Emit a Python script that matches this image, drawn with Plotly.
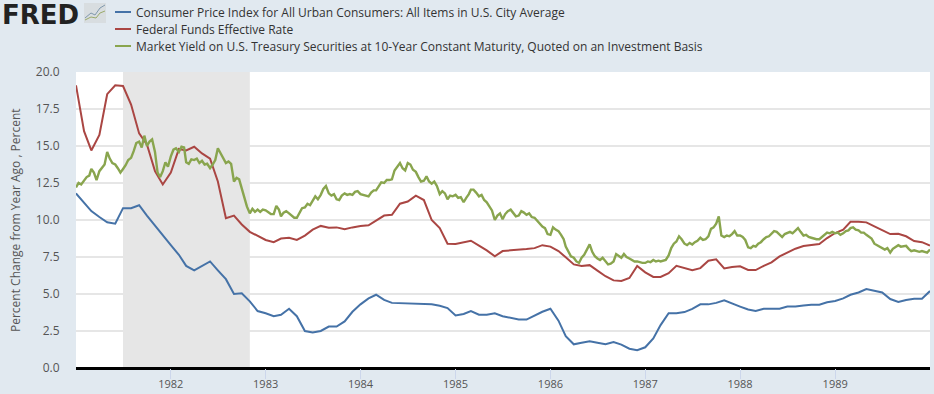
import pandas as pd
import plotly.graph_objects as go

NAMES = ["Consumer Price Index for All Urban Consumers: All Items in U.S. City Average",
         "Federal Funds Effective Rate",
         "Market Yield on U.S. Treasury Securities at 10-Year Constant Maturity, Quoted on an Investment Basis"]
COLORS = ["#4572a7", "#aa4643", "#89a54e"]
TICK_YEARS = [1982, 1983, 1984, 1985, 1986, 1987, 1988, 1989]
Y_TICKS = [0, 2.5, 5, 7.5, 10, 12.5, 15, 17.5, 20]
RECESSION = ["1981-07-01", "1982-11-01"]

cpi = [11.8, 11.2, 10.6, 10.2, 9.85, 9.75, 10.8, 10.8, 11.0, 10.3, 9.6, 8.95,
       8.3, 7.65, 6.9, 6.6, 6.9, 7.2, 6.6, 6.0, 5.0, 5.05, 4.5, 3.85,
       3.7, 3.5, 3.6, 4.0, 3.5, 2.5, 2.4, 2.5, 2.8, 2.8, 3.15, 3.8,
       4.3, 4.7, 4.95, 4.6, 4.4, 4.38, 4.35, 4.33, 4.33, 4.3, 4.2, 4.05,
       3.55, 3.65, 3.85, 3.6, 3.6, 3.7, 3.5, 3.4, 3.27, 3.27, 3.55, 3.8,
       4.0, 3.2, 2.15, 1.6, 1.7, 1.8, 1.7, 1.6, 1.75, 1.58, 1.3, 1.2,
       1.4, 2.0, 2.9, 3.7, 3.7, 3.78, 4.0, 4.3, 4.3, 4.4, 4.57, 4.35,
       4.15, 3.95, 3.85, 4.0, 4.0, 4.0, 4.15, 4.15, 4.23, 4.28, 4.28, 4.44,
       4.53, 4.7, 4.95, 5.1, 5.33, 5.22, 5.1, 4.66, 4.46, 4.6, 4.68, 4.68, 5.2]

fedfunds = [19.1, 16.0, 14.7, 15.75, 18.5, 19.1, 19.05, 17.8, 15.85, 15.1, 13.3, 12.4,
            13.2, 14.8, 14.7, 14.95, 14.5, 14.15, 12.6, 10.12, 10.3, 9.7, 9.2, 8.95,
            8.65, 8.5, 8.75, 8.8, 8.65, 8.95, 9.35, 9.6, 9.48, 9.5, 9.37, 9.5,
            9.6, 9.64, 9.95, 10.3, 10.35, 11.1, 11.25, 11.65, 11.35, 10.0, 9.45, 8.4,
            8.38, 8.5, 8.6, 8.27, 7.95, 7.55, 7.9, 7.95, 7.97, 8.04, 8.1, 8.3,
            8.2, 7.9, 7.48, 7.0, 6.9, 6.95, 6.58, 6.2, 5.92, 5.88, 6.08, 6.9,
            6.46, 6.15, 6.15, 6.4, 6.9, 6.75, 6.6, 6.75, 7.25, 7.34, 6.73, 6.82,
            6.87, 6.62, 6.62, 6.9, 7.14, 7.54, 7.82, 8.06, 8.24, 8.33, 8.38, 8.78,
            9.12, 9.35, 9.88, 9.88, 9.84, 9.57, 9.3, 9.05, 9.07, 8.9, 8.58, 8.5, 8.27]

treasury = [12.2,12.5,12.4, 12.7,12.9,13.0, 13.45,13.2,12.7, 13.3,13.5,13.75, 14.6,14.15,13.85, 13.75,13.5,13.2,
            13.45,13.7,14.05, 14.2,14.65,15.2, 15.3,14.9,15.7, 15.0,15.3,15.45, 14.6,13.2,12.9, 13.3,13.9,13.6,
            14.3,14.75,14.85, 14.6,14.95,14.9, 13.9,13.8,14.1, 14.05,14.15,13.85, 14.0,13.75,13.8, 13.5,13.75,14.05,
            14.85,14.55,14.2, 13.85,13.95,13.8, 12.6,12.85,12.75, 12.1,11.6,10.9, 10.45,10.75,10.55, 10.7,10.55,10.7,
            10.65,10.5,10.4, 10.4,10.95,10.7, 10.25,10.5,10.6, 10.45,10.3,10.15, 10.15,10.45,10.8, 10.85,11.1,11.0,
            11.35,11.6,11.4, 11.7,12.1,12.3, 11.8,11.65,11.75, 11.4,11.35,11.65, 11.8,11.7,11.75, 11.7,11.9,11.95,
            11.75,11.7,11.65, 11.6,11.85,12.0, 12.0,12.3,12.55, 12.5,12.7,12.7, 12.75,13.35,13.6, 13.85,13.5,13.35,
            13.85,13.75,13.4, 13.25,12.9,12.6, 12.65,12.95,12.6, 12.45,12.6,12.3, 11.75,11.95,11.8, 11.4,11.65,11.6,
            11.7,11.5,11.55, 11.2,11.5,11.75, 12.05,12.05,11.85, 11.6,11.7,11.35, 11.2,10.95,10.65, 10.0,10.3,10.45,
            10.05,10.4,10.6, 10.7,10.5,10.25, 10.3,10.6,10.5, 10.35,10.45,10.2, 10.15,9.95,9.75, 9.55,9.45,9.05,
            9.0,9.5,9.35, 9.25,9.0,8.7, 8.2,7.85,7.55, 7.45,7.2,7.1, 7.45,7.65,8.0, 8.35,7.85,7.55,
            7.4,7.3,7.45, 7.2,7.0,7.05, 7.2,7.7,7.55, 7.45,7.7,7.5, 7.4,7.3,7.2, 7.2,7.15,7.1,
            7.1,7.2,7.15, 7.3,7.2,7.25, 7.2,7.25,7.3, 7.6,8.1,8.4, 8.55,8.9,8.7, 8.4,8.3,8.45,
            8.35,8.5,8.6, 8.8,8.65,8.7, 8.9,9.4,9.5, 9.75,10.25,8.95, 8.85,8.95,8.9, 9.05,9.25,8.95,
            8.95,8.85,8.65, 8.15,8.1,8.25, 8.2,8.4,8.5, 8.7,8.85,8.9, 9.1,9.25,9.2, 9.05,8.85,9.05,
            9.1,9.2,9.1, 9.3,9.45,9.2, 8.95,9.0,8.85, 8.8,8.75,8.7, 8.7,8.85,9.05, 9.15,9.1,9.2,
            9.1,9.15,9.0, 9.1,9.25,9.3, 9.45,9.5,9.35, 9.3,9.15,9.15, 9.0,8.85,8.75, 8.4,8.3,8.2,
            8.05,8.0,8.1, 7.8,8.05,8.2, 8.3,8.2,8.25, 8.25,8.05,7.9, 7.95,7.9,7.85, 7.9,7.85,7.8, 8.0]

months = pd.date_range("1981-01-01", periods=len(cpi), freq="MS")
tdates = []
for m in months[:-1]:
    tdates += [m, m + pd.Timedelta(days=10), m + pd.Timedelta(days=20)]
tdates.append(months[-1])

fig = go.Figure()
for name, col, x, y, w in [(NAMES[0], COLORS[0], months, cpi, 2),
                           (NAMES[1], COLORS[1], months, fedfunds, 2),
                           (NAMES[2], COLORS[2], tdates, treasury, 2.4)]:
    fig.add_trace(go.Scatter(x=x, y=y, mode="lines", name=name,
                             line=dict(color=col, width=w), showlegend=False))

FONT = "Open Sans"
def px(x): return (x - 76) / 854
def py(y): return 1 - (y - 72) / 296

shapes = [dict(type="rect", xref="x", yref="paper", x0=RECESSION[0], x1=RECESSION[1], y0=0, y1=1,
               fillcolor="#e6e6e6", line_width=0, layer="below")]
annos = []
for i, (n, c) in enumerate(zip(NAMES, COLORS)):
    yl = py(12 + i * 17)
    shapes.append(dict(type="line", xref="paper", yref="paper", x0=px(115), x1=px(131), y0=yl, y1=yl,
                       line=dict(color=c, width=2)))
    annos.append(dict(text=n, xref="paper", yref="paper", x=px(134), y=py(12.5 + i * 17), showarrow=False,
                      xanchor="left", yanchor="middle", font=dict(family=FONT, size=12, color="#333333")))

annos.append(dict(text="<b>FRED</b>", xref="paper", yref="paper", x=px(0), y=py(15),
                  showarrow=False, xanchor="left", yanchor="middle",
                  font=dict(family="DejaVu Sans", size=26, color="#222222")))
annos.append(dict(text="Percent Change from Year Ago , Percent", xref="paper", yref="paper", x=px(15), y=0.5,
                  textangle=-90, showarrow=False, xanchor="center", yanchor="middle",
                  font=dict(family=FONT, size=12, color="#555555")))
shapes.append(dict(type="rect", xref="paper", yref="paper", x0=px(84), x1=px(106), y0=py(23), y1=py(3),
                   fillcolor="#d8dde0", line_width=0))
shapes.append(dict(type="path", xref="paper", yref="paper",
                   path=f"M {px(85)} {py(18)} L {px(91)} {py(13)} L {px(95)} {py(15)} L {px(100)} {py(8)} L {px(105)} {py(5)}",
                   line=dict(color="#7f98ad", width=1)))
shapes.append(dict(type="path", xref="paper", yref="paper",
                   path=f"M {px(85)} {py(20)} L {px(91)} {py(17)} L {px(96)} {py(18)} L {px(100)} {py(13)} L {px(105)} {py(11)}",
                   line=dict(color="#9aaa6a", width=1)))

fig.update_layout(
    width=934, height=394, margin=dict(l=76, r=4, t=72, b=26),
    paper_bgcolor="#e1e9f0", plot_bgcolor="#ffffff", showlegend=False,
    font=dict(family=FONT, size=12, color="#333333"),
    shapes=shapes, annotations=annos,
    xaxis=dict(range=["1981-01-01", "1990-01-01"], tickvals=[f"{y}-01-01" for y in TICK_YEARS],
               ticktext=[str(y) for y in TICK_YEARS], showgrid=False, ticks="outside", ticklen=10,
               tickcolor="#ccd6eb", tickwidth=1, showline=False, zeroline=False, automargin=False,
               ticklabelstandoff=-4,
               tickfont=dict(family=FONT, size=11, color="#555555")),
    yaxis=dict(range=[0, 20], tickvals=Y_TICKS, ticktext=[f"{v:.1f}" for v in Y_TICKS],
               gridcolor="#e6e6e6", gridwidth=2, zeroline=True, zerolinecolor="#000000", zerolinewidth=3,
               ticks="outside", ticklen=13, tickcolor="#e1e9f0", showline=False, automargin=False,
               tickfont=dict(family=FONT, size=12, color="#555555")),
)
fig.write_html("out.html", config={"displayModeBar": False},
               post_script="document.body.style.margin='0';document.documentElement.style.overflow='hidden';")
